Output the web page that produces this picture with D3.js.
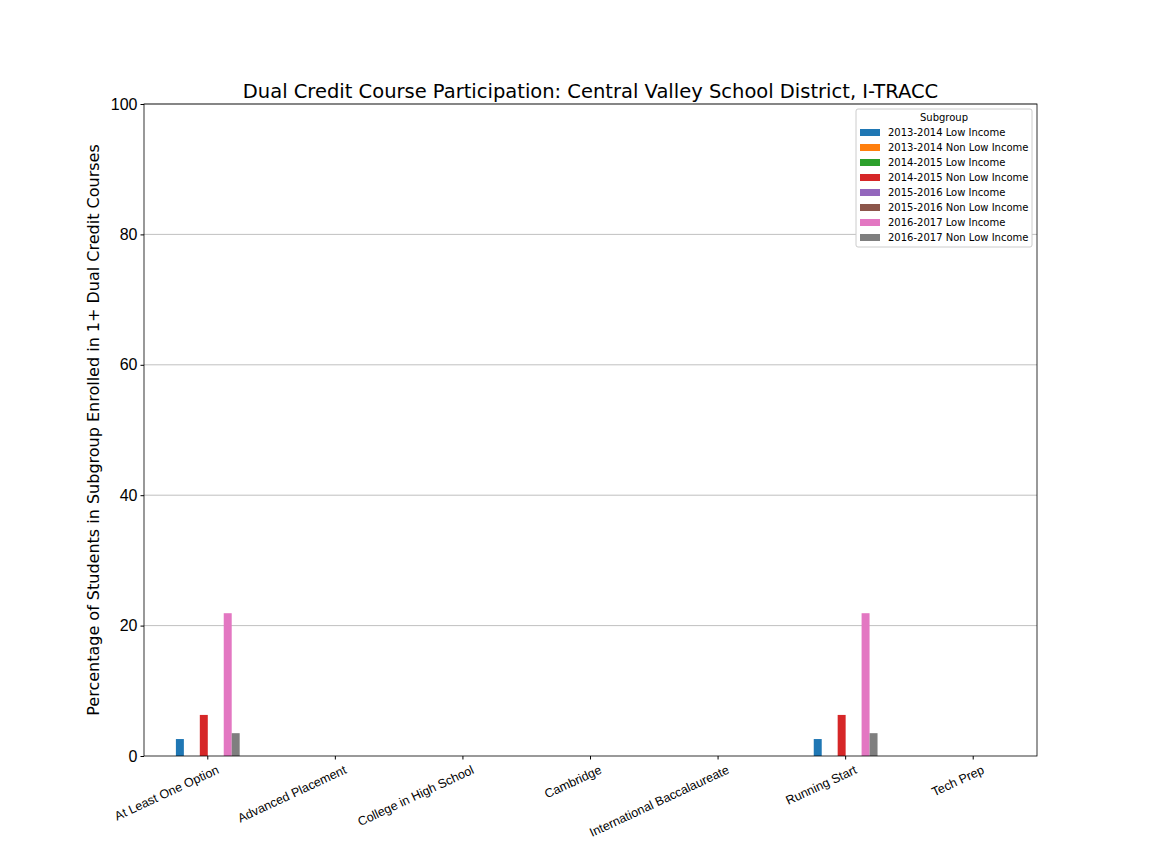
<!DOCTYPE html>
<html><head><meta charset="utf-8">
<script src="https://cdn.jsdelivr.net/npm/d3@7"></script>
<style>body{margin:0;background:#fff}svg{font-family:"DejaVu Sans",sans-serif}</style>
</head><body><svg width="1152" height="864"></svg>
<script>
const categories = ["At Least One Option","Advanced Placement","College in High School","Cambridge","International Baccalaureate","Running Start","Tech Prep"];
const seriesNames = ["2013-2014 Low Income","2013-2014 Non Low Income","2014-2015 Low Income","2014-2015 Non Low Income","2015-2016 Low Income","2015-2016 Non Low Income","2016-2017 Low Income","2016-2017 Non Low Income"];
const colors = ["#1f77b4","#ff7f0e","#2ca02c","#d62728","#9467bd","#8c564b","#e377c2","#7f7f7f"];
const values = [
  [2.6,0,0,6.3,0,0,21.9,3.5],
  [0,0,0,0,0,0,0,0],
  [0,0,0,0,0,0,0,0],
  [0,0,0,0,0,0,0,0],
  [0,0,0,0,0,0,0,0],
  [2.6,0,0,6.3,0,0,21.9,3.5],
  [0,0,0,0,0,0,0,0]
];
const yTicks = [0,20,40,60,80,100];

const svg = d3.select("svg");
const L=144,R=1037,T=104,B=756;
const x = d3.scaleBand().domain(categories).range([L,R]).paddingInner(0).paddingOuter(0);
const inner = d3.scaleBand().domain(seriesNames).range([0,x.bandwidth()*0.5]);
const y = d3.scaleLinear().domain([0,100]).range([B,T]);

svg.append("g").selectAll("line").data(yTicks.slice(1)).join("line")
  .attr("x1",L).attr("x2",R).attr("y1",d=>y(d)).attr("y2",d=>y(d))
  .attr("stroke","#b0b0b0").attr("stroke-width",0.8);

categories.forEach((c,i)=>{
  const g = svg.append("g").attr("transform",`translate(${x(c)+x.bandwidth()*0.25},0)`);
  g.selectAll("rect").data(values[i]).join("rect")
    .attr("x",(d,j)=>inner(seriesNames[j])).attr("width",inner.bandwidth())
    .attr("y",d=>y(d)).attr("height",d=>B-y(d)).attr("fill",(d,j)=>colors[j]);
});

const ax = svg.append("g").attr("transform",`translate(0,${B})`)
  .call(d3.axisBottom(x).tickSizeOuter(0).tickSize(3.5));
ax.select(".domain").remove();
ax.selectAll("text").attr("font-size",12.5).attr("text-anchor","end")
  .attr("transform","rotate(-25)").attr("dx","0.3em").attr("dy","1.1em");
const ay = svg.append("g").attr("transform",`translate(${L},0)`)
  .call(d3.axisLeft(y).tickValues(yTicks).tickSize(3.5).tickSizeOuter(0));
ay.select(".domain").remove();
ay.selectAll("text").attr("font-size",16);
svg.append("rect").attr("x",L).attr("y",T).attr("width",R-L).attr("height",B-T)
  .attr("fill","none").attr("stroke","#000").attr("stroke-width",0.8);

svg.append("text").attr("x",(L+R)/2).attr("y",98).attr("text-anchor","middle")
  .attr("font-size",19.5).text("Dual Credit Course Participation: Central Valley School District, I-TRACC");
svg.append("text").attr("transform",`translate(99,${(T+B)/2}) rotate(-90)`).attr("text-anchor","middle")
  .attr("font-size",16).text("Percentage of Students in Subgroup Enrolled in 1+ Dual Credit Courses");

const lg = svg.append("g").attr("transform","translate(856,109)");
lg.append("rect").attr("width",176).attr("height",138).attr("fill","#fff").attr("stroke","#ccc").attr("rx",2);
lg.append("text").attr("x",88).attr("y",12).attr("text-anchor","middle").attr("font-size",10).text("Subgroup");
seriesNames.forEach((s,j)=>{
  lg.append("rect").attr("x",4).attr("y",20+j*15).attr("width",20).attr("height",7).attr("fill",colors[j]);
  lg.append("text").attr("x",32).attr("y",27+j*15).attr("font-size",10).text(s);
});
</script></body></html>
